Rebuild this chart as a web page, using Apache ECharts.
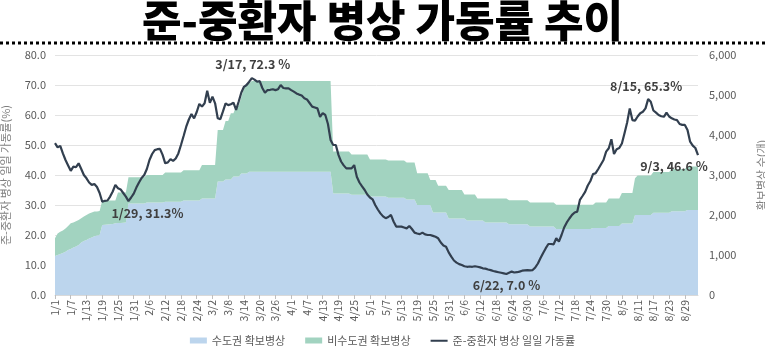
<!DOCTYPE html>
<html>
<head>
<meta charset="utf-8">
<script src="https://cdn.jsdelivr.net/npm/echarts@6/dist/echarts.min.js"></script>
<style>
html,body{margin:0;padding:0;background:#fff;}
#chart{width:765px;height:355px;}
</style>
</head>
<body>
<div id="chart"></div>
<script>
// ---- data ----
const monthNames = [1,2,3,4,5,6,7,8,9];
const monthDays = [31,28,31,30,31,30,31,31,3];
const categories = [];
monthNames.forEach((m, k) => { for (let d = 1; d <= monthDays[k]; d++) categories.push(m + '/' + d); });

// 수도권 확보병상 (beds, right axis)
const capitalBeds = [
975,998,1028,1050,1080,1125,1148,1185,1215,1253,
1313,1350,1373,1410,1440,1470,1485,1500,1748,1755,
1763,1770,1778,1793,1800,1800,1808,1815,2288,2288,
2288,2288,2288,2288,2288,2310,2310,2310,2310,2310,
2310,2310,2333,2333,2333,2333,2333,2333,2333,2363,
2363,2363,2363,2363,2363,2363,2415,2415,2415,2415,
2415,2415,2835,2835,2835,2888,2888,2888,2963,2963,
2963,3038,3038,3038,3083,3083,3083,3083,3083,3083,
3083,3083,3083,3083,3083,3083,3083,3083,3083,3083,
3083,3083,3083,3083,3083,3083,3083,3083,3083,3083,
3083,3083,3083,3083,3083,3083,2535,2535,2535,2535,
2535,2535,2535,2505,2505,2505,2505,2505,2505,2505,
2460,2460,2460,2460,2460,2460,2460,2430,2430,2430,
2430,2430,2430,2430,2385,2385,2385,2385,2250,2250,
2250,2250,2250,2250,2063,2063,2063,2063,2063,2063,
1913,1913,1913,1913,1913,1913,1913,1860,1860,1860,
1860,1860,1860,1860,1815,1815,1815,1815,1815,1815,
1815,1815,1815,1770,1770,1770,1770,1770,1770,1770,
1770,1710,1710,1710,1710,1710,1710,1710,1710,1710,
1710,1650,1650,1650,1650,1650,1650,1650,1650,1650,
1650,1650,1650,1650,1650,1673,1673,1673,1673,1673,
1673,1725,1725,1725,1725,1725,1785,1785,1785,1785,
1785,2003,2003,2003,2003,2003,2003,2003,2055,2055,
2055,2055,2055,2055,2055,2093,2093,2093,2093,2093,
2093,2123,2123,2123,2123,2123
];

// 비수도권 확보병상 (beds, right axis)
const nonCapitalBeds = [
443,540,555,563,585,600,645,630,630,623,
608,615,630,630,623,615,600,600,615,608,
600,593,585,570,765,765,758,750,653,653,
653,653,653,653,653,690,690,690,690,690,
690,690,728,728,728,728,728,728,728,758,
758,758,758,758,758,758,833,833,833,833,
833,833,1290,1290,1290,1463,1463,1658,1583,1763,
1763,1913,2130,2258,2213,2265,2265,2265,2265,2265,
2265,2265,2265,2265,2265,2265,2265,2265,2265,2265,
2265,2265,2265,2265,2265,2265,2265,2265,2265,2265,
2265,2265,2265,2265,2265,2265,1050,1050,1050,1050,
1050,1050,1050,1005,1005,1005,1005,1005,1005,1005,
930,930,930,930,930,930,930,930,930,930,
930,930,930,930,930,930,930,930,795,795,
795,795,795,623,810,810,668,668,668,668,
713,713,713,713,713,713,600,653,653,653,
653,555,555,555,600,600,600,600,600,600,
600,600,600,600,600,600,600,600,600,600,
600,600,600,600,600,600,600,600,600,600,
600,608,608,608,608,608,608,608,608,608,
608,608,608,608,608,585,638,638,638,638,
638,690,690,690,690,690,765,765,765,765,
765,915,983,983,983,983,983,983,1020,1020,
1020,1020,1020,1020,1020,1058,1058,1058,1058,1058,
1058,1088,1088,1088,1088,1088
];

// 준-중환자 병상 일일 가동률 (%, left axis)
const occupancyRate = [
50.6,49.2,49.7,47.2,45.0,43.2,41.4,42.8,42.6,43.9,
42.0,40.0,38.9,37.5,36.7,37.0,36.0,34.0,31.1,31.4,
31.5,32.8,34.5,36.7,35.6,35.2,34.0,32.8,31.3,32.5,
33.8,35.8,37.5,39.0,40.0,42.0,45.0,47.0,48.3,48.6,
48.7,46.7,43.9,44.2,45.3,44.7,45.5,47.2,50.0,53.0,
56.1,58.5,60.3,58.9,61.0,63.7,62.8,63.9,68.1,64.1,
66.1,63.9,58.9,58.6,61.2,63.9,63.3,63.6,64.1,61.7,
64.5,67.5,69.4,70.0,71.1,72.3,71.8,71.1,71.3,69.0,
67.4,68.3,68.4,68.6,68.3,68.6,70.0,69.0,68.9,68.9,
68.3,67.8,67.2,66.8,66.5,65.6,65.2,64.0,62.8,62.5,
62.2,59.4,60.6,60.0,57.0,51.7,50.0,50.0,46.7,44.5,
43.2,42.2,42.2,42.2,43.3,39.4,37.5,36.2,35.0,33.5,
32.5,31.9,30.0,28.5,27.2,26.2,25.6,26.0,26.7,24.5,
22.8,22.8,22.8,22.5,22.2,23.0,22.0,20.8,20.5,20.3,
20.8,20.2,20.0,20.0,19.7,19.4,18.9,17.5,16.5,16.1,
14.2,12.8,11.5,10.8,10.3,10.0,9.6,9.4,9.5,9.4,
9.6,9.4,9.2,8.9,8.8,8.5,8.3,8.0,7.8,7.6,
7.4,7.2,7.0,7.4,7.8,7.5,7.6,7.8,8.1,8.2,
8.3,8.2,8.3,9.2,10.5,12.3,14.0,15.6,17.0,17.0,
16.9,18.9,17.8,20.0,22.5,24.2,25.5,26.7,27.5,27.8,
31.7,33.0,34.4,36.5,38.0,40.3,40.6,42.0,43.5,45.0,
47.8,48.9,51.9,47.0,48.6,49.0,50.5,53.9,57.5,62.2,
58.3,58.1,59.5,60.6,61.1,62.2,65.3,64.4,61.5,60.8,
60.0,59.6,59.4,60.8,59.5,58.9,58.5,58.3,57.0,56.7,
56.7,55.0,51.1,49.8,49.0,46.6
];

// annotations: [date, value, text]
const annotations = [
  ['3/17', 72.3, '3/17, 72.3 %'],
  ['1/29', 31.3, '1/29, 31.3%'],
  ['6/22', 7.0, '6/22, 7.0 %'],
  ['8/15', 65.3, '8/15, 65.3%'],
  ['9/3', 46.6, '9/3, 46.6 %']
];
const annotationOffsets = [[1,-14],[19,12],[0,11],[-2,-13],[-24,11]];

const seriesNames = ['수도권 확보병상', '비수도권 확보병상', '준-중환자 병상 일일 가동률'];

// ---- chart ----
const FONT = '"Noto Sans CJK KR", "Noto Sans", sans-serif';
const LINE_ICON = 'path://M0,0 L0.01,0 L0,0 Z M0,2.2 L17,2.2 L17,4.2 L0,4.2 Z M0,6 L0.01,6 L0,6 Z';
const chart = echarts.init(document.getElementById('chart'), null, {renderer: 'canvas'});
chart.setOption({
  animation: false,
  textStyle: {fontFamily: FONT},
  title: {
    text: '준-중환자 병상 가동률 추이',
    left: 'center', top: -6,
    textStyle: {fontFamily: FONT, fontSize: 43, fontWeight: 900, color: '#000'}
  },
  graphic: [{
    type: 'line',
    shape: {x1: 0, y1: 43, x2: 765, y2: 43},
    style: {stroke: '#000', lineWidth: 3, lineDash: [3, 3]}
  }],
  grid: {left: 55, right: 67, top: 55, bottom: 60, outerBoundsMode: 'none', containLabel: false},
  legend: {
    bottom: 4, left: 'center',
    itemWidth: 17, itemHeight: 6, itemGap: 20,
    textStyle: {fontFamily: FONT, fontSize: 11, color: '#595959'},
    data: [
      {name: seriesNames[0], icon: 'rect'},
      {name: seriesNames[1], icon: 'rect'},
      {name: seriesNames[2], icon: LINE_ICON}
    ]
  },
  xAxis: {
    type: 'category',
    data: categories,
    boundaryGap: false,
    axisLine: {lineStyle: {color: '#d9d9d9'}},
    axisTick: {interval: 5, length: 4, lineStyle: {color: '#bfbfbf'}},
    axisLabel: {interval: 5, rotate: 90, fontSize: 10.5, color: '#595959', margin: 5, fontFamily: FONT}
  },
  yAxis: [{
    type: 'value', min: 0, max: 80, interval: 10,
    name: '준-중환자 병상 일일 가동률(%)',
    nameLocation: 'middle', nameRotate: 90, nameGap: 44, nameMoveOverlap: false,
    nameTextStyle: {fontSize: 11, color: '#7f7f7f', fontFamily: FONT},
    axisLine: {show: false}, axisTick: {show: false},
    splitLine: {lineStyle: {color: '#e3e3e3'}},
    axisLabel: {formatter: v => v.toFixed(1), fontSize: 11, color: '#595959', margin: 9, fontFamily: FONT}
  }, {
    type: 'value', min: 0, max: 6000, interval: 1000,
    name: '확보병상 수(개)',
    nameLocation: 'middle', nameRotate: 90, nameGap: 58, nameMoveOverlap: false,
    nameTextStyle: {fontSize: 11, color: '#7f7f7f', fontFamily: FONT},
    axisLine: {show: false}, axisTick: {show: false},
    splitLine: {show: false},
    axisLabel: {formatter: v => v.toLocaleString('en-US'), fontSize: 11, color: '#595959', margin: 11, fontFamily: FONT}
  }],
  series: [{
    name: seriesNames[0], type: 'line', yAxisIndex: 1, stack: 'beds',
    data: capitalBeds, symbol: 'none',
    lineStyle: {width: 0}, itemStyle: {color: '#bcd5ed'},
    areaStyle: {color: '#bcd5ed', opacity: 1}, z: 1
  }, {
    name: seriesNames[1], type: 'line', yAxisIndex: 1, stack: 'beds',
    data: nonCapitalBeds, symbol: 'none',
    lineStyle: {width: 0}, itemStyle: {color: '#a2d3c0'},
    areaStyle: {color: '#a2d3c0', opacity: 1}, z: 1
  }, {
    name: seriesNames[2], type: 'line', yAxisIndex: 0,
    data: occupancyRate, symbol: 'none',
    lineStyle: {width: 2.2, color: '#323f4f'}, itemStyle: {color: '#323f4f'}, z: 5,
    markPoint: {
      symbol: 'circle', symbolSize: 0,
      label: {show: true, fontFamily: FONT, fontSize: 12.5, fontWeight: 'bold', color: '#404040'},
      data: annotations.map((a, k) => ({
        coord: [a[0], a[1]], value: a[1],
        label: {formatter: a[2], offset: annotationOffsets[k], position: 'inside'}
      }))
    }
  }]
});
</script>
</body>
</html>
